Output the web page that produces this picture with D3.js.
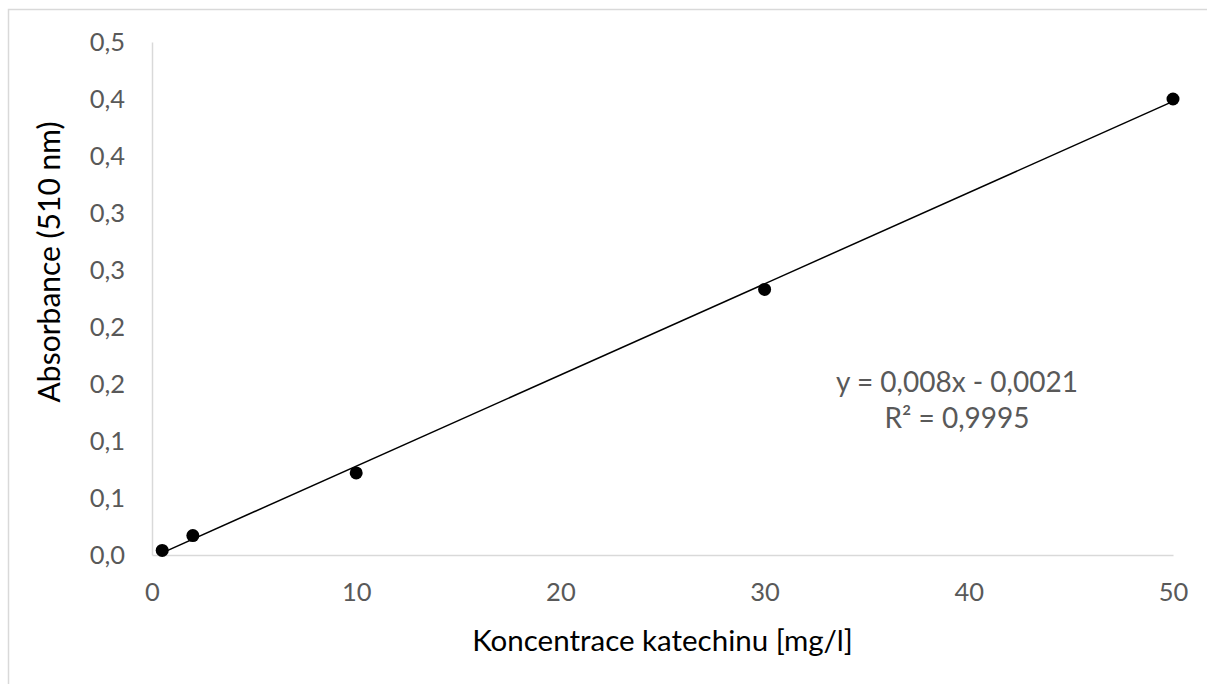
<!DOCTYPE html>
<html>
<head>
<meta charset="utf-8">
<script src="https://cdn.jsdelivr.net/npm/d3@7"></script>
<style>
  html, body { margin: 0; padding: 0; background: #fff; }
  svg { display: block; font-family: Lato, "Open Sans", sans-serif; }
</style>
</head>
<body>
<svg id="chart" width="1207" height="684"></svg>
<script>
// Calibration series: catechin concentration vs. absorbance at 510 nm
const concentration = [0.5, 2, 10, 30, 50];
const absorbance = [0.004, 0.017, 0.072, 0.233, 0.400];

// Linear trendline as printed on the chart
const slope = 0.008;
const intercept = -0.0021;
const equationLabel = "y = 0,008x - 0,0021";
const r2Label = "R² = 0,9995";

// Axis ticks and their printed labels (one decimal, comma separator)
const xTicks = [0, 10, 20, 30, 40, 50];
const xTickLabels = ["0", "10", "20", "30", "40", "50"];
const yTicks = [0, 0.05, 0.10, 0.15, 0.20, 0.25, 0.30, 0.35, 0.40, 0.45];
const yTickLabels = ["0,0", "0,1", "0,1", "0,2", "0,2", "0,3", "0,3", "0,4", "0,4", "0,5"];

const xTitle = "Koncentrace katechinu [mg/l]";
const yTitle = "Absorbance (510 nm)";

const svg = d3.select("#chart");

// Plot area
const plot = { left: 152, right: 1173, top: 42, bottom: 555 };

const x = d3.scaleLinear().domain([0, 50]).range([plot.left, plot.right]);
const y = d3.scaleLinear().domain([0, 0.45]).range([plot.bottom, plot.top]);

// Chart frame
svg.append("rect")
  .attr("x", 8.5).attr("y", 9.5)
  .attr("width", 1300).attr("height", 800)
  .attr("fill", "#fff")
  .attr("stroke", "#d9d9d9")
  .attr("stroke-width", 1.5);

const tickColor = "#595959";
const tickSize = "25.5px";

// Y axis
const yAxis = d3.axisLeft(y)
  .tickValues(yTicks)
  .tickSize(0)
  .tickPadding(27)
  .tickFormat((d, i) => yTickLabels[i]);

const gy = svg.append("g")
  .attr("transform", `translate(${plot.left},0)`)
  .call(yAxis);
gy.select(".domain").attr("stroke", "#d9d9d9").attr("stroke-width", 1.5);
gy.selectAll("text")
  .attr("fill", tickColor)
  .style("font-size", tickSize)
  .style("font-family", "Lato, sans-serif");

// X axis
const xAxis = d3.axisBottom(x)
  .tickValues(xTicks)
  .tickSize(0)
  .tickPadding(28)
  .tickFormat((d, i) => xTickLabels[i]);

const gx = svg.append("g")
  .attr("transform", `translate(0,${plot.bottom})`)
  .call(xAxis);
gx.select(".domain").attr("stroke", "#d9d9d9").attr("stroke-width", 1.5);
gx.selectAll("text")
  .attr("fill", tickColor)
  .style("font-size", tickSize)
  .style("font-family", "Lato, sans-serif");

// Trendline over the measured range
const xMin = d3.min(concentration), xMax = d3.max(concentration);
svg.append("line")
  .attr("x1", x(xMin)).attr("y1", y(slope * xMin + intercept))
  .attr("x2", x(xMax)).attr("y2", y(slope * xMax + intercept))
  .attr("stroke", "#000")
  .attr("stroke-width", 1.5);

// Measured points
svg.append("g")
  .selectAll("circle")
  .data(concentration.map((c, i) => [c, absorbance[i]]))
  .join("circle")
  .attr("cx", d => x(d[0]))
  .attr("cy", d => y(d[1]))
  .attr("r", 6.5)
  .attr("fill", "#000");

// Axis titles
svg.append("text")
  .attr("x", (plot.left + plot.right) / 2)
  .attr("y", 651)
  .attr("text-anchor", "middle")
  .attr("fill", "#000")
  .style("font-size", "29.5px")
  .text(xTitle);

svg.append("text")
  .attr("transform", "translate(60,262) rotate(-90)")
  .attr("text-anchor", "middle")
  .attr("fill", "#000")
  .style("font-size", "30px")
  .text(yTitle);

// Trendline equation
const eq = svg.append("text")
  .attr("text-anchor", "middle")
  .attr("fill", "#595959")
  .style("font-size", "28px");
eq.append("tspan").attr("x", 957).attr("y", 392).text(equationLabel);
eq.append("tspan").attr("x", 957).attr("y", 428).text(r2Label);
</script>
</body>
</html>
